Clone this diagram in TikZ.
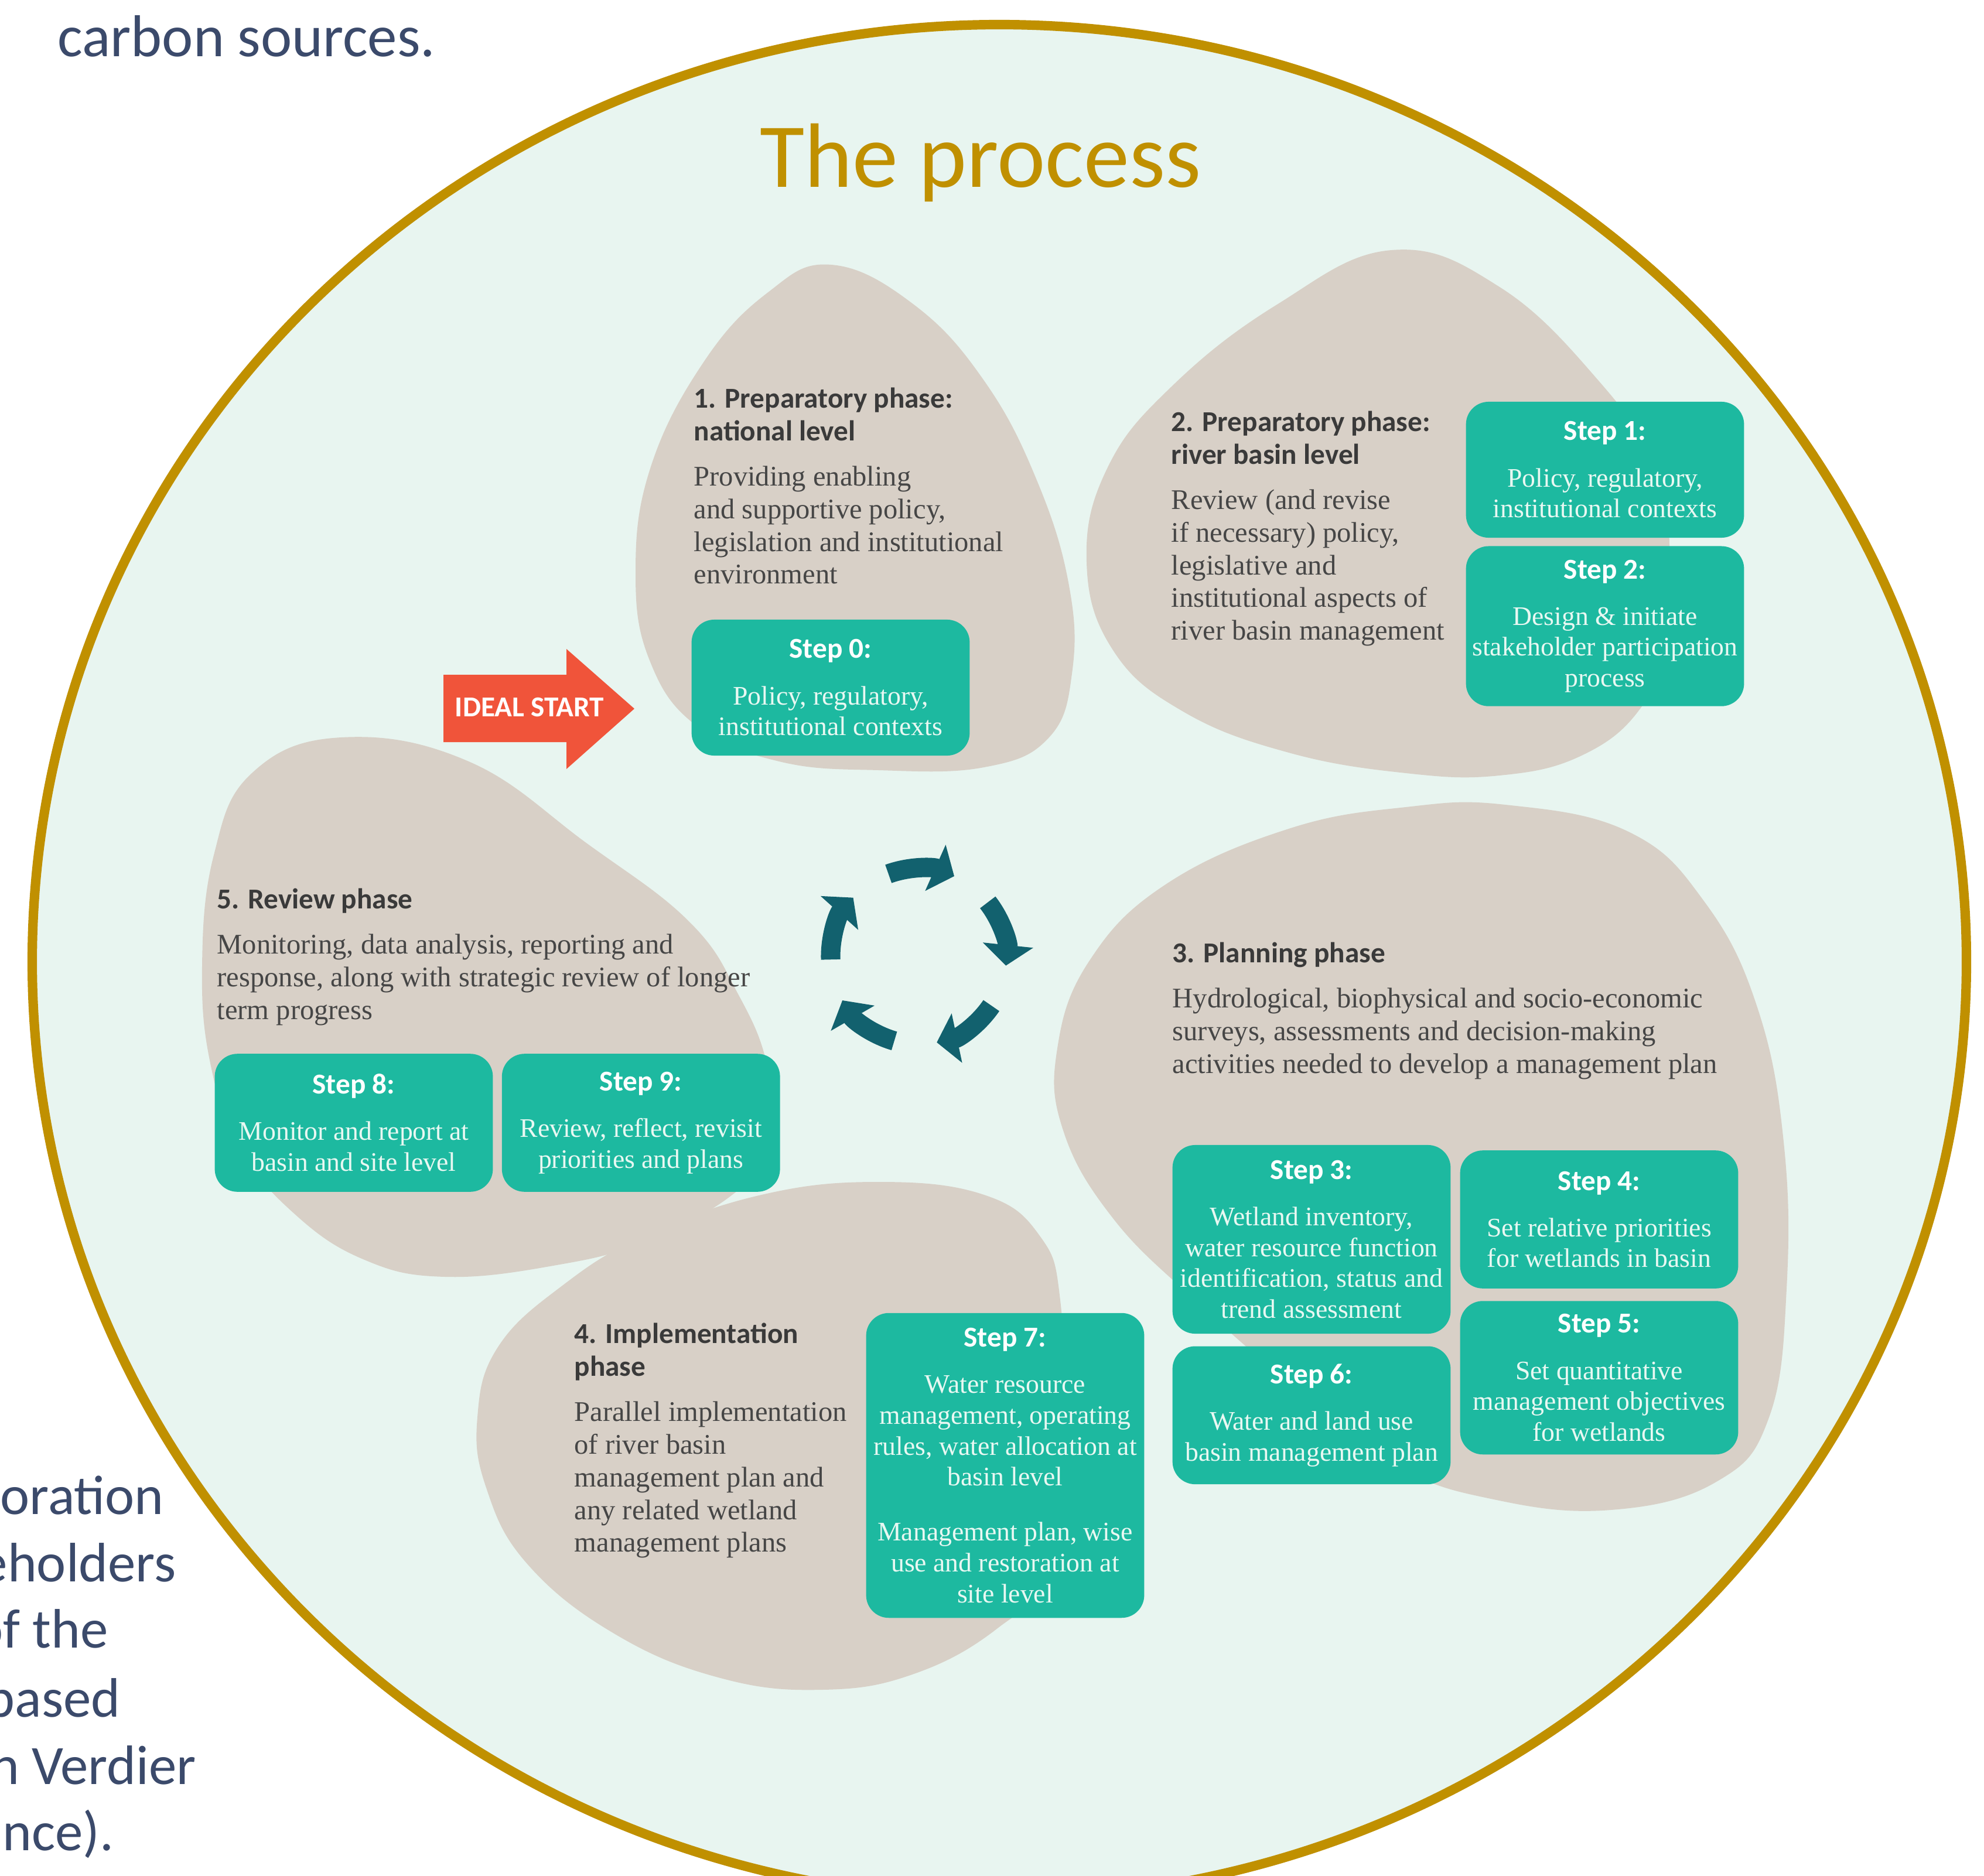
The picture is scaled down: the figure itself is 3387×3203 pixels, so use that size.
\documentclass[tikz,border=0pt]{standalone}
\usepackage{fontspec}
\usepackage{xcolor}
\usepackage{tikz}
\usetikzlibrary{positioning,arrows.meta}
\setmainfont{Liberation Serif}
\newfontfamily\carlito{Carlito}

\definecolor{ringgold}{RGB}{192,144,0}
\definecolor{mintbg}{RGB}{232,245,240}
\definecolor{blobbeige}{RGB}{216,208,199}
\definecolor{stepteal}{RGB}{29,185,160}
\definecolor{cycleteal}{RGB}{18,97,110}
\definecolor{startred}{RGB}{240,84,58}
\definecolor{inkgray}{RGB}{58,58,58}
\definecolor{bodygray}{RGB}{70,70,70}
\definecolor{steptext}{RGB}{232,248,242}
\definecolor{slateblue}{RGB}{59,74,107}

\newcommand{\phasehead}{\carlito\bfseries\fontsize{14}{15.6}\selectfont\color{inkgray}}
\newcommand{\stephead}{\carlito\bfseries\fontsize{14}{15.6}\selectfont\color{white}}

\begin{document}
\begin{tikzpicture}[x=0.01cm,y=-0.01cm,
    blob/.style={fill=blobbeige},
    stepbox/.style={fill=stepteal, rounded corners=11pt, align=center, minimum width=135pt,
        inner sep=2pt, text=steptext, font=\fontsize{13}{15}\selectfont},
    phasetext/.style={anchor=north west, align=left, inner sep=0pt, text=bodygray,
        font=\fontsize{13.8}{15.9}\selectfont},
    cyclearrow/.style={draw=cycleteal, line width=9.4pt, -{Triangle[width=24pt,length=10pt]}},
    sidetext/.style={text=slateblue, font=\carlito\fontsize{28.7}{34}\selectfont}]
    \useasboundingbox (0,0) rectangle (3387,3203);
    \fill[white] (0,0) rectangle (3387,3203);

    % Page text around the figure
    \node[sidetext, anchor=base west] (carbon) at (86,97) {carbon sources.};
    \foreach \txt/\xe/\yb [count=\i] in {boration/292/2585, eholders/313/2700, of the/197/2813,
        based/218/2931, n Verdier/347/3046, ance)./207/3159} {
        \node[sidetext, font=\carlito\fontsize{27}{32}\selectfont, anchor=base east] (side\i) at (\xe,\yb) {\txt};
    }

    % Ring
    \draw[line width=4.6pt, draw=ringgold, fill=mintbg] (1706,1642) ellipse [x radius=1651, y radius=1600];
    \node[text=ringgold, font=\carlito\fontsize{44.4}{50}\selectfont, anchor=base] (title) at (1674,320) {The process};

    % Phase blobs
    \fill[blob] plot[smooth cycle, tension=0.7] coordinates {(1419,452) (1560,520) (1680,650) (1770,820)
        (1825,1000) (1830,1150) (1790,1260) (1680,1310) (1500,1315) (1330,1300) (1190,1240)
        (1110,1130) (1085,980) (1110,800) (1200,620) (1310,500)};
    \fill[blob] plot[smooth cycle, tension=0.7] coordinates {(2376,427) (2560,490) (2729,650) (2830,800)
        (2850,930) (2840,1100) (2800,1210) (2700,1290) (2560,1324) (2400,1320) (2200,1285)
        (2020,1215) (1900,1110) (1855,960) (1890,800) (2000,660) (2180,520)};
    \fill[blob] plot[smooth cycle, tension=0.7] coordinates {(2570,1374) (2780,1420) (2910,1540) (3000,1720)
        (3045,1950) (3050,2200) (3020,2420) (2930,2530) (2750,2578) (2550,2560) (2380,2500)
        (2200,2360) (2040,2220) (1900,2080) (1815,1930) (1805,1790) (1860,1640) (1990,1510)
        (2200,1415) (2400,1378)};
    \fill[blob] plot[smooth cycle, tension=0.7] coordinates {(1500,2018) (1680,2040) (1775,2110) (1810,2220)
        (1815,2450) (1790,2680) (1703,2780) (1560,2858) (1404,2885) (1230,2865) (1050,2790)
        (900,2670) (830,2540) (815,2420) (850,2300) (960,2195) (1100,2110) (1300,2040)};
    \fill[blob] plot[smooth cycle, tension=0.7] coordinates {(583,1259) (800,1300) (1002,1440) (1177,1574)
        (1261,1699) (1310,1820) (1320,1950) (1250,2040) (1100,2120) (950,2160) (760,2180)
        (620,2150) (500,2070) (410,1960) (360,1820) (345,1650) (365,1460) (430,1320)};

    % Phase texts
    \node[phasetext] (p1) at (1184,661) {{\phasehead 1. Preparatory phase:}\\ {\phasehead national level}\\[6pt]
        Providing enabling\\ and supportive policy,\\ legislation and institutional\\ environment};
    \node[phasetext] (p2) at (1999,701) {{\phasehead 2. Preparatory phase:}\\ {\phasehead river basin level}\\[6pt]
        Review (and revise\\ if necessary) policy,\\ legislative and\\ institutional aspects of\\ river basin management};
    \node[phasetext] (p3) at (2001,1608) {{\phasehead 3. Planning phase}\\[6pt]
        Hydrological, biophysical and socio-economic\\ surveys, assessments and decision-making\\
        activities needed to develop a management plan};
    \node[phasetext] (p4) at (980,2258) {{\phasehead 4. Implementation}\\ {\phasehead phase}\\[6pt]
        Parallel implementation\\ of river basin\\ management plan and\\ any related wetland\\ management plans};
    \node[phasetext] (p5) at (370,1516) {{\phasehead 5. Review phase}\\[6pt]
        Monitoring, data analysis, reporting and\\ response, along with strategic review of longer\\ term progress};

    % Steps
    \node[stepbox, minimum height=66pt] (s0) at (1418,1174) {{\stephead Step 0:}\\[7.5pt]
        Policy, regulatory,\\ institutional contexts};
    \node[stepbox, minimum height=66pt] (s1) at (2740,802) {{\stephead Step 1:}\\[7.5pt]
        Policy, regulatory,\\ institutional contexts};
    \node[stepbox, minimum height=77.7pt, below=3.7pt of s1] (s2) {{\stephead Step 2:}\\[7.5pt]
        Design \& initiate\\ stakeholder participation\\ process};
    \node[stepbox, minimum height=91.6pt] (s3) at (2239,2116) {{\stephead Step 3:}\\[7.5pt]
        Wetland inventory,\\ water resource function\\ identification, status and\\ trend assessment};
    \node[stepbox, minimum height=67pt] (s4) at (2730,2082) {{\stephead Step 4:}\\[7.5pt]
        Set relative priorities\\ for wetlands in basin};
    \node[stepbox, minimum height=74.5pt, below=5.7pt of s4] (s5) {{\stephead Step 5:}\\[7.5pt]
        Set quantitative\\ management objectives\\ for wetlands};
    \node[stepbox, minimum height=67pt, below=5.7pt of s3] (s6) {{\stephead Step 6:}\\[7.5pt]
        Water and land use\\ basin management plan};
    \node[stepbox, minimum height=148pt] (s7) at (1716,2502) {{\stephead Step 7:}\\[7.5pt]
        Water resource\\ management, operating\\ rules, water allocation at\\ basin level\\[11.7pt]
        Management plan, wise\\ use and restoration at\\ site level};
    \node[stepbox, minimum height=67pt] (s8) at (604,1917) {{\stephead Step 8:}\\[7.5pt]
        Monitor and report at\\ basin and site level};
    \node[stepbox, minimum height=67pt, right=4pt of s8] (s9) {{\stephead Step 9:}\\[7.5pt]
        Review, reflect, revisit\\ priorities and plans};

    % Ideal start
    \fill[startred] (757,1152) -- (967,1152) -- (967,1108) -- (1083,1210) -- (967,1313)
        -- (967,1267) -- (757,1267) -- cycle;
    \node[text=white, font=\carlito\bfseries\fontsize{14}{15}\selectfont] (start) at (904,1208) {IDEAL START};

    % Cycle
    \foreach \a in {-110,-38,34,106,178} {
        \draw[cyclearrow] (1568,1633) ++(\a:150) arc[start angle=\a, end angle=\a+44, radius=150];
    }
\end{tikzpicture}
\end{document}
